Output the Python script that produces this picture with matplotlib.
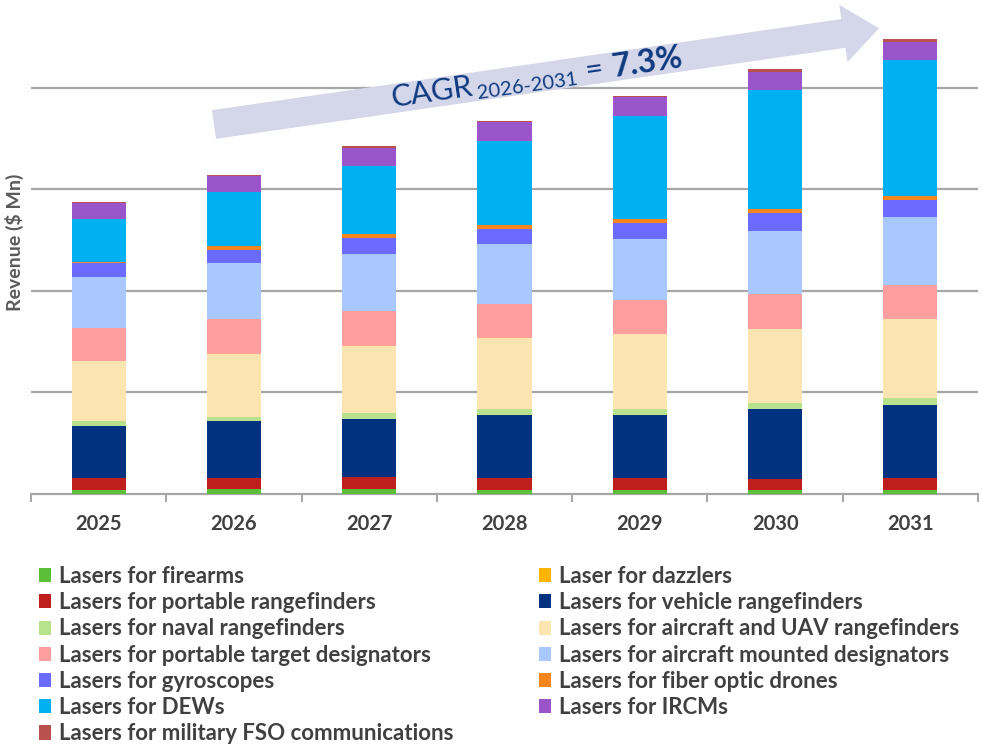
import matplotlib
matplotlib.use('Agg')
import matplotlib.pyplot as plt
from matplotlib.patches import FancyArrow
import numpy as np

plt.rcParams['font.family'] = ['Lato', 'DejaVu Sans']

# 年份
years = ['2025', '2026', '2027', '2028', '2029', '2030', '2031']

# 各细分市场数据 (自下而上堆叠)
firearms = [3.5, 4.1, 4.1, 3.8, 3.8, 3.5, 3.5]
dazzlers = [0, 0, 0, 0, 0, 0, 0]
portable_rf = [11.8, 11.5, 11.8, 11.8, 11.5, 10.6, 12.1]
vehicle_rf = [51.3, 56.0, 57.8, 62.2, 62.5, 69.7, 72.1]
naval_rf = [4.6, 4.2, 5.9, 5.6, 5.9, 5.9, 6.9]
aircraft_uav_rf = [59.5, 62.2, 65.8, 70.1, 73.7, 73.0, 77.7]
portable_td = [32.6, 34.3, 34.6, 33.6, 33.6, 34.6, 33.6]
aircraft_md = [50.6, 55.6, 56.6, 59.5, 60.2, 61.9, 67.1]
gyroscopes = [13.2, 12.5, 15.5, 14.5, 16.1, 17.8, 16.8]
fiber_drones = [1.3, 4.2, 3.6, 3.9, 3.9, 4.2, 3.9]
dews = [42.7, 53.3, 67.4, 83.2, 101.4, 116.5, 134.3]
ircms = [15.2, 15.0, 18.3, 18.0, 18.3, 17.8, 17.1]
fso = [1.6, 1.5, 1.5, 1.5, 1.5, 3.6, 3.6]

series = [
    ('Lasers for firearms', firearms, '#5BBF3A'),
    ('Laser for dazzlers', dazzlers, '#FFB400'),
    ('Lasers for portable rangefinders', portable_rf, '#BE1E1E'),
    ('Lasers for vehicle rangefinders', vehicle_rf, '#00327F'),
    ('Lasers for naval rangefinders', naval_rf, '#B9E28F'),
    ('Lasers for aircraft and UAV rangefinders', aircraft_uav_rf, '#FDE5B2'),
    ('Lasers for portable target designators', portable_td, '#FF9E9E'),
    ('Lasers for aircraft mounted designators', aircraft_md, '#A8C8FF'),
    ('Lasers for gyroscopes', gyroscopes, '#6B6BFF'),
    ('Lasers for fiber optic drones', fiber_drones, '#F5861E'),
    ('Lasers for DEWs', dews, '#00B0F0'),
    ('Lasers for IRCMs', ircms, '#9A55CB'),
    ('Lasers for military FSO communications', fso, '#B9524E'),
]

W, H = 982, 746
fig = plt.figure(figsize=(W / 100, H / 100), dpi=100)
ax = fig.add_axes([31 / W, 252.5 / H, 947 / W, 493.5 / H])

x = np.arange(len(years))
bottom = np.zeros(len(years))
handles = []
for label, vals, color in series:
    b = ax.bar(x, vals, width=0.4, bottom=bottom, color=color, label=label, zorder=3)
    handles.append(b)
    bottom += np.array(vals)

ax.set_xlim(-0.5, len(years) - 0.5)
ax.set_ylim(0, 487)
ax.set_yticks([100, 200, 300, 400])
ax.set_yticklabels([])
ax.tick_params(axis='y', length=0)
ax.grid(axis='y', color='#A6A6A6', linewidth=1.6, zorder=0)
ax.set_axisbelow(True)

ax.set_xticks(x)
ax.set_xticklabels(years, fontsize=14.5, fontweight='bold', color='#404040')
ax.tick_params(axis='x', which='major', length=0, pad=15)
ax.set_xticks(np.arange(-0.5, len(years)), minor=True)
ax.tick_params(axis='x', which='minor', length=6, width=1.4, color='#A6A6A6', direction='out')

for s in ['top', 'right', 'left']:
    ax.spines[s].set_visible(False)
ax.spines['bottom'].set_color('#A6A6A6')
ax.spines['bottom'].set_linewidth(1.6)

fig.text(14 / W, 1 - 242 / H, 'Revenue ($ Mn)', rotation=90, ha='center', va='center',
         fontsize=14, fontweight='bold', color='#595959')

# 图例 (两列, 按行读)
leg_kw = dict(frameon=False, labelspacing=0.235, handlelength=0.55,
              handleheight=0.6, handletextpad=0.36, borderpad=0, borderaxespad=0,
              loc='upper left', labelcolor='#404040', prop={'weight': 'bold', 'size': 16})
left_idx = [0, 2, 4, 6, 8, 10, 12]
right_idx = [1, 3, 5, 7, 9, 11]
fig.legend([handles[i] for i in left_idx], [series[i][0] for i in left_idx],
           bbox_to_anchor=(39 / W, 1 - 566 / H), **leg_kw)
fig.legend([handles[i] for i in right_idx], [series[i][0] for i in right_idx],
           bbox_to_anchor=(539 / W, 1 - 566 / H), **leg_kw)

# CAGR 箭头 (像素坐标)
ov = fig.add_axes([0, 0, 1, 1], zorder=5)
ov.set_xlim(0, W)
ov.set_ylim(H, 0)
ov.axis('off')
ov.patch.set_alpha(0)
start = (214, 124.5)
tip = (879, 28.3)
ov.add_patch(FancyArrow(start[0], start[1], tip[0] - start[0], tip[1] - start[1],
                        width=29, head_width=58, head_length=36,
                        length_includes_head=True, color='#D4D6EA', linewidth=0))
ang = np.degrees(np.arctan2(start[1] - tip[1], tip[0] - start[0]))
navy = '#0F3A80'
txt_kw = dict(rotation=ang, rotation_mode='anchor', ha='left', va='baseline', color=navy)
ov.text(393, 107, 'CAGR', fontsize=22, **txt_kw)
ov.text(478, 99, '2026-2031', fontsize=14.5, **txt_kw)
ov.text(587, 80, '=', fontsize=22, **txt_kw)
ov.text(614, 77, '7.3%', fontsize=23, fontweight='bold', **txt_kw)

fig.savefig('out.png', dpi=100)
